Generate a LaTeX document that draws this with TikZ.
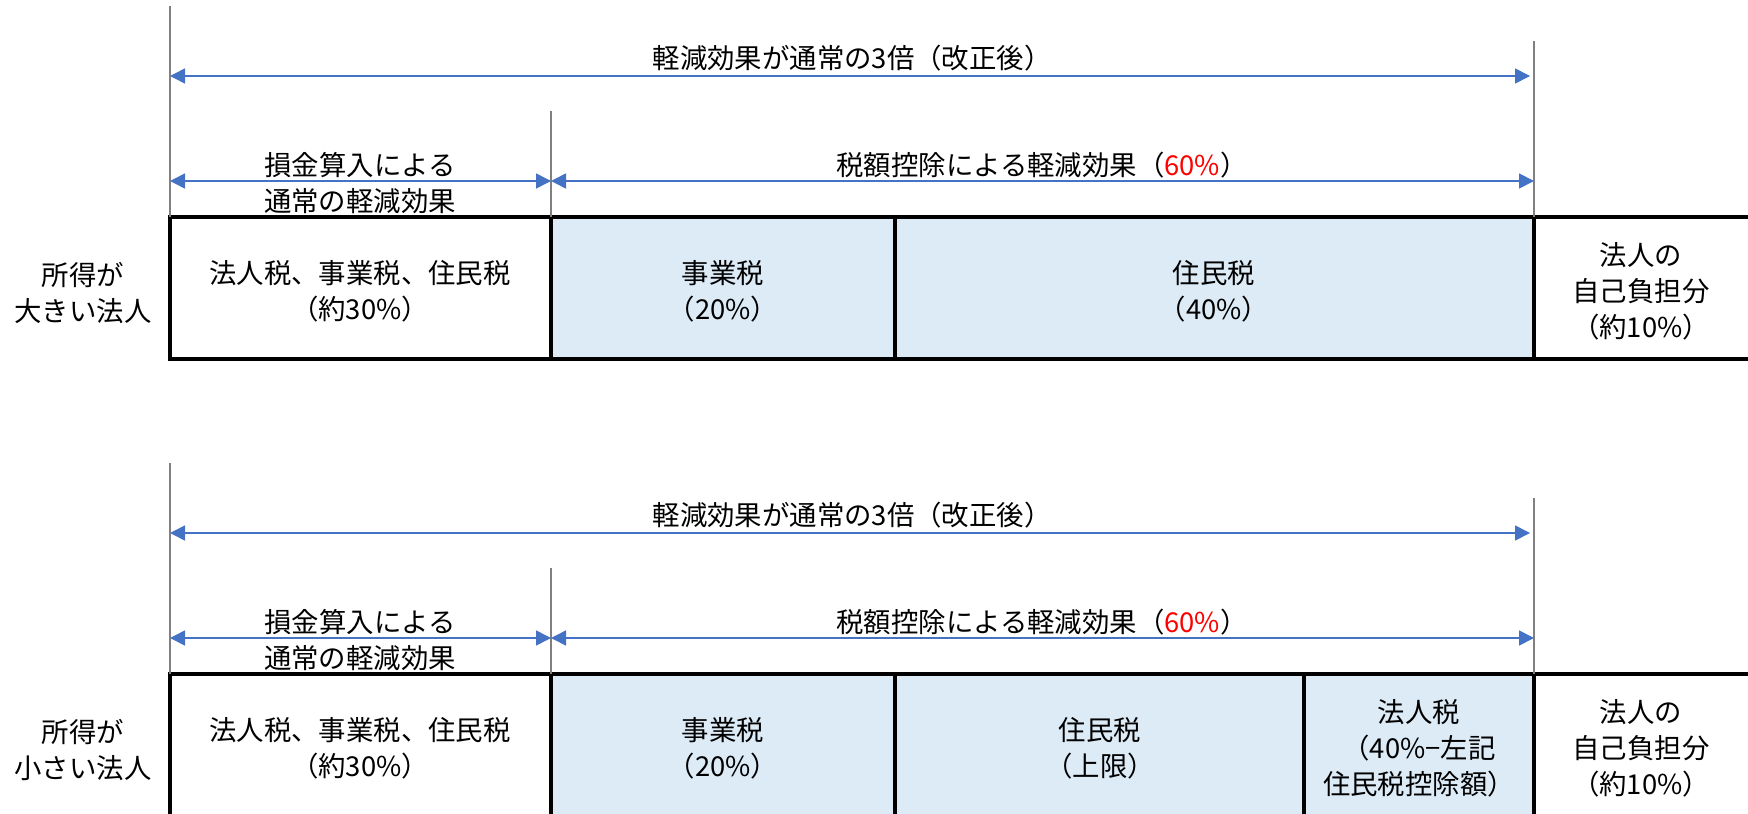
\documentclass[tikz,border=0pt]{standalone}
\usepackage{fontspec}
\setmainfont{Noto Sans CJK JP}
\usetikzlibrary{arrows.meta}

\definecolor{dimblue}{RGB}{68,114,196}
\definecolor{cellblue}{RGB}{221,235,247}
\definecolor{guidegray}{RGB}{128,128,128}

\tikzset{
  guide/.style={draw=guidegray, line width=1pt},
  dim/.style={dimblue, line width=0.8pt,
    {Triangle[length=7.5pt,width=7.5pt]}-{Triangle[length=7.5pt,width=7.5pt]}},
  cell/.style={draw=black, line width=1.8pt},
  lbl/.style={font=\fontsize{13.7}{18}\selectfont, align=center, inner sep=0pt},
}

\begin{document}
\begin{tikzpicture}[x=0.5pt,y=-0.5pt]
\useasboundingbox (0,0) rectangle (1748,813);
\clip (0,0) rectangle (1748,813);

% Upper case: large income
\coordinate (aLtop) at (170,6);
\coordinate (aMtop) at (551,111);
\coordinate (aRtop) at (1534,41);
\coordinate (aLbot) at (170,217);
\coordinate (aMbot) at (551,217);
\coordinate (aRbot) at (1534,217);
\coordinate (aTopL) at (170,76);
\coordinate (aTopR) at (1530,76);
\coordinate (aSubL) at (170,181);
\coordinate (aSubM) at (551,181);
\coordinate (aSubR) at (1534,181);

% Cells
\fill[cellblue] (551,217) rectangle (1534,359);
\draw[cell] (170,217) rectangle (1760,359);
\draw[cell] (551,217) -- (551,359);
\draw[cell] (895,217) -- (895,359);
\draw[cell] (1534,217) -- (1534,359);

% Guides
\draw[guide] (aLtop) -- (aLbot);
\draw[guide] (aMtop) -- (aMbot);
\draw[guide] (aRtop) -- (aRbot);

% Dimension arrows
\draw[dim] (aTopL) -- (aTopR);
\draw[dim] (aSubL) -- (aSubM);
\draw[dim] (aSubM) -- (aSubR);

% Labels
\node[lbl] (aTitle) at (852,58) {軽減効果が通常の3倍（改正後）};
\node[lbl] (aNormal) at (360,183) {損金算入による\\通常の軽減効果};
\node[lbl] (aCredit) at (1042,165) {税額控除による軽減効果（\textcolor{red}{60\%}）};
\node[lbl] (aRow) at (83,293) {所得が\\大きい法人};
\node[lbl] (aAll) at (360,291) {法人税、事業税、住民税\\（約30\%）};
\node[lbl] (aBiz) at (723,291) {事業税\\（20\%）};
\node[lbl] (aRes) at (1214,291) {住民税\\（40\%）};
\node[lbl] (aOwn) at (1641,291) {法人の\\自己負担分\\（約10\%）};

% Lower case: small income
\coordinate (bLtop) at (170,463);
\coordinate (bMtop) at (551,568);
\coordinate (bRtop) at (1534,498);
\coordinate (bLbot) at (170,674);
\coordinate (bMbot) at (551,674);
\coordinate (bRbot) at (1534,674);
\coordinate (bTopL) at (170,533);
\coordinate (bTopR) at (1530,533);
\coordinate (bSubL) at (170,638);
\coordinate (bSubM) at (551,638);
\coordinate (bSubR) at (1534,638);

% Cells
\fill[cellblue] (551,674) rectangle (1534,816);
\draw[cell] (170,674) rectangle (1760,816);
\draw[cell] (551,674) -- (551,816);
\draw[cell] (895,674) -- (895,816);
\draw[cell] (1304,674) -- (1304,816);
\draw[cell] (1534,674) -- (1534,816);

% Guides
\draw[guide] (bLtop) -- (bLbot);
\draw[guide] (bMtop) -- (bMbot);
\draw[guide] (bRtop) -- (bRbot);

% Dimension arrows
\draw[dim] (bTopL) -- (bTopR);
\draw[dim] (bSubL) -- (bSubM);
\draw[dim] (bSubM) -- (bSubR);

% Labels
\node[lbl] (bTitle) at (852,515) {軽減効果が通常の3倍（改正後）};
\node[lbl] (bNormal) at (360,640) {損金算入による\\通常の軽減効果};
\node[lbl] (bCredit) at (1042,622) {税額控除による軽減効果（\textcolor{red}{60\%}）};
\node[lbl] (bRow) at (83,750) {所得が\\小さい法人};
\node[lbl] (bAll) at (360,748) {法人税、事業税、住民税\\（約30\%）};
\node[lbl] (bBiz) at (723,748) {事業税\\（20\%）};
\node[lbl] (bRes) at (1100,748) {住民税\\（上限）};
\node[lbl] (bCorp) at (1419,748) {法人税\\（40\%−左記\\住民税控除額）};
\node[lbl] (bOwn) at (1641,748) {法人の\\自己負担分\\（約10\%）};

\end{tikzpicture}
\end{document}
